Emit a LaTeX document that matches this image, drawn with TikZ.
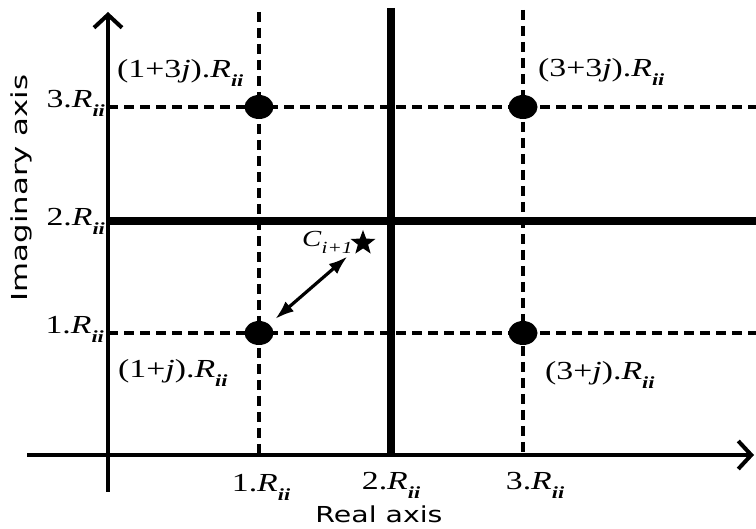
\documentclass[tikz,border=0pt]{standalone}
\usepackage{fontspec}
\setmainfont{Liberation Serif}
\newfontfamily\axisfont{DejaVu Sans}
\usetikzlibrary{arrows.meta,shapes.geometric}
\newcommand{\Rii}{\textit{R}\raisebox{-0.32em}{\fontsize{17}{17}\selectfont\bfseries\itshape ii}}
\newcommand{\lbltext}[1]{\scalebox{1.3}[1]{\fontsize{26}{26}\selectfont #1}}
\begin{document}
\begin{tikzpicture}[x=1pt,y=-1pt,
  gridline/.style={line width=3.2pt, dash pattern=on 10pt off 6pt},
  thickline/.style={line width=8.5pt},
  axisline/.style={line width=4pt, -{Straight Barb[length=13pt,width=28pt]}},
  dotnode/.style={ellipse, fill=black, minimum width=29pt, minimum height=24pt, inner sep=0pt},
  lbl/.style={inner sep=0pt},
  twoarrow/.style={line width=3.2pt, {Latex[length=19pt,width=13pt]}-{Latex[length=19pt,width=13pt]}}]
\useasboundingbox (0,0) rectangle (756,529);
% coordinates
\coordinate (v1t) at (259,12);  \coordinate (v1b) at (259,455);
\coordinate (v3t) at (523,10);  \coordinate (v3b) at (523,455);
\coordinate (h3l) at (108,107); \coordinate (h3r) at (756,107);
\coordinate (h1l) at (108,333); \coordinate (h1r) at (756,333);
\coordinate (v2t) at (391,8);   \coordinate (v2b) at (391,455);
\coordinate (h2l) at (108,221); \coordinate (h2r) at (756,221);
\coordinate (xs) at (27,455);   \coordinate (xe) at (754,455);
\coordinate (ys) at (108,492);  \coordinate (ye) at (108,12);
% dashed grid
\draw[gridline] (v1t) -- (v1b);
\draw[gridline] (v3t) -- (v3b);
\draw[gridline] (h3l) -- (h3r);
\draw[gridline] (h1l) -- (h1r);
% thick lines
\draw[thickline] (v2t) -- (v2b);
\draw[thickline] (h2l) -- (h2r);
% axes
\draw[axisline] (xs) -- (xe);
\draw[axisline] (ys) -- (ye);
% dots
\node[dotnode] (d13) at (259,107) {};
\node[dotnode] (d33) at (523,107) {};
\node[dotnode] (d11) at (259,333) {};
\node[dotnode] (d31) at (523,333) {};
% star
\node[star, star points=5, star point ratio=2.4, fill=black, minimum size=26pt, inner sep=0pt] (st) at (363,243) {};
\draw[twoarrow, shorten <=8pt, shorten >=12pt] (d11) -- (st);
% labels
\node[lbl, anchor=base west] (l13) at (117,78) {\lbltext{(1+3\textit{j}).\Rii}};
\node[lbl, anchor=base west] (l33) at (538,77) {\lbltext{(3+3\textit{j}).\Rii}};
\node[lbl, anchor=base west] (l11) at (118,378) {\lbltext{(1+\textit{j}).\Rii}};
\node[lbl, anchor=base west] (l31) at (545,380) {\lbltext{(3+\textit{j}).\Rii}};
\node[lbl, anchor=base east] (y3) at (105,108) {\lbltext{3.\Rii}};
\node[lbl, anchor=base east] (y2) at (105,226) {\lbltext{2.\Rii}};
\node[lbl, anchor=base east] (y1) at (104,334) {\lbltext{1.\Rii}};
\node[lbl, anchor=base] (x1) at (261,492) {\lbltext{1.\Rii}};
\node[lbl, anchor=base] (x2) at (391,490) {\lbltext{2.\Rii}};
\node[lbl, anchor=base] (x3) at (535,490) {\lbltext{3.\Rii}};
\node[lbl, anchor=base west] (cl) at (302,247) {\scalebox{1.25}[1]{\fontsize{23}{23}\selectfont\textit{C}\raisebox{-0.3em}{\fontsize{17}{17}\selectfont\itshape i+1}}};
\node[lbl, anchor=base] (rx) at (379,523) {\scalebox{1.29}[1]{\axisfont\fontsize{22}{22}\selectfont Real axis}};
\node[lbl, rotate=90] (ix) at (21,188) {\scalebox{1.4}[1]{\axisfont\fontsize{22}{22}\selectfont Imaginary axis}};
\end{tikzpicture}
\end{document}
